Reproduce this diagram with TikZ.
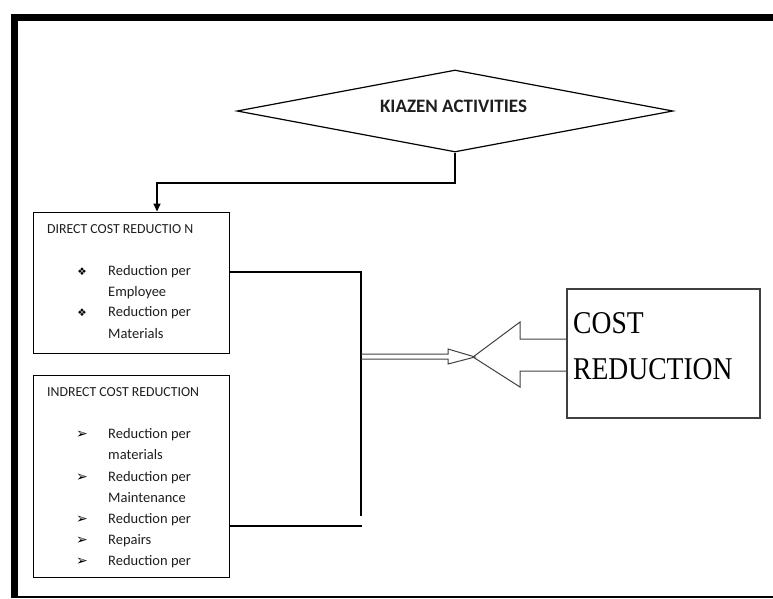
\documentclass[tikz,border=0pt]{standalone}
\usepackage{fontspec}
\setmainfont{Carlito}
\newfontfamily\costfont[FakeStretch=0.87]{Liberation Serif}
\newfontfamily\dingfont{DejaVu Sans}
\usetikzlibrary{arrows.meta,shapes.geometric}
\definecolor{KzInk}{HTML}{1E1E1E}
\definecolor{KzLine}{HTML}{404040}
\tikzset{
  flow/.style={-{Triangle[length=8pt,width=7pt]},black,line width=1.6pt},
  wire/.style={black,line width=1.1pt},
  wirebold/.style={wire,line width=1.8pt},
  outline/.style={KzLine,line width=1.0pt,line join=miter},
  listbox/.style={draw=black,line width=1.0pt,minimum width=196pt,inner sep=0pt},
  costbox/.style={draw=KzLine,line width=1.3pt,minimum width=193pt,minimum height=129pt,inner sep=0pt},
  decision/.style={draw=black,line width=1.2pt,shape=diamond,minimum width=436pt,
                   minimum height=82pt,inner sep=0pt},
  itemtext/.style={anchor=base west,inner sep=0pt,text=KzInk,font=\fontsize{14.5}{17}\selectfont},
  boxhead/.style={itemtext,font=\fontsize{13.8}{16}\selectfont},
  bulletmark/.style={anchor=base,inner sep=0pt,text=black,font=\dingfont\fontsize{10.5}{12}\selectfont},
  arrowmark/.style={bulletmark,font=\dingfont\fontsize{14}{16}\selectfont},
  costtext/.style={anchor=base west,inner sep=0pt,text=black,font=\costfont\fontsize{31.7}{36}\selectfont},
  headtext/.style={text=KzInk,font=\bfseries\fontsize{19}{22}\selectfont,inner sep=0pt},
}

\begin{document}
\begin{tikzpicture}[x=1pt,y=-1pt]
    \useasboundingbox (0,0) rectangle (773,598);
    % page frame
    \draw[line width=7pt] (14.5,598) -- (14.5,17) -- (773,17);
    \draw[line width=1.5pt] (18,597) -- (773,597);

    \node[decision] (kaizen) at (455,111) {};
    \node[headtext] (kaizen-text) at (453.5,106) {KIAZEN ACTIVITIES};

    \node[listbox,minimum height=141pt] (direct) at (131,282.5) {};
    \node[boxhead] (direct-head) at (47,233) {DIRECT COST REDUCTIO N};
    \foreach \y/\txt [count=\i] in {275/Reduction per,296/Employee,316/Reduction per,338/Materials}{
      \node[itemtext] (direct-\i) at (108,\y) {\txt};
    }
    \foreach \y [count=\i] in {275,316}{
      \node[bulletmark] (direct-b\i) at (82,\y) {❖};
    }

    \node[listbox,minimum height=202pt] (indirect) at (131,476) {};
    \node[boxhead] (indirect-head) at (47,396) {INDRECT COST REDUCTION};
    \foreach \y/\txt [count=\i] in {438/Reduction per,459/materials,481/Reduction per,502/Maintenance,
                                    523/Reduction per,544/Repairs,565/Reduction per}{
      \node[itemtext] (indirect-\i) at (108,\y) {\txt};
    }
    \foreach \y [count=\i] in {438,481,523,544,565}{
      \node[arrowmark] (indirect-b\i) at (82,\y) {➢};
    }

    \node[costbox] (cost) at (663.5,353.5) {};
    \node[costtext] (cost-a) at (573,333) {COST};
    \node[costtext] (cost-b) at (573,379) {REDUCTION};

    % connectors
    \coordinate (bend) at (157,183);
    \draw[flow] (kaizen.south) |- (bend) -- (bend |- direct.north);

    \coordinate (bustop) at (361,272);
    \coordinate (busend) at (361,516);
    \draw[wire] (direct.east |- bustop) -- (bustop) -- (busend);
    \draw[wirebold] (indirect.east |- 0,526) -- (362,526);

    \draw[outline] (bustop |- 0,354) -- (448,354) -- (448,349) -- (475,357)
      -- (448,364) -- (448,359) -- (bustop |- 0,359);
    \draw[outline] (cost.west |- 0,339) -- (520,339) -- (520,322) -- (473,357)
      -- (520,387) -- (520,371) -- (cost.west |- 0,371);
  \end{tikzpicture}
\end{document}
